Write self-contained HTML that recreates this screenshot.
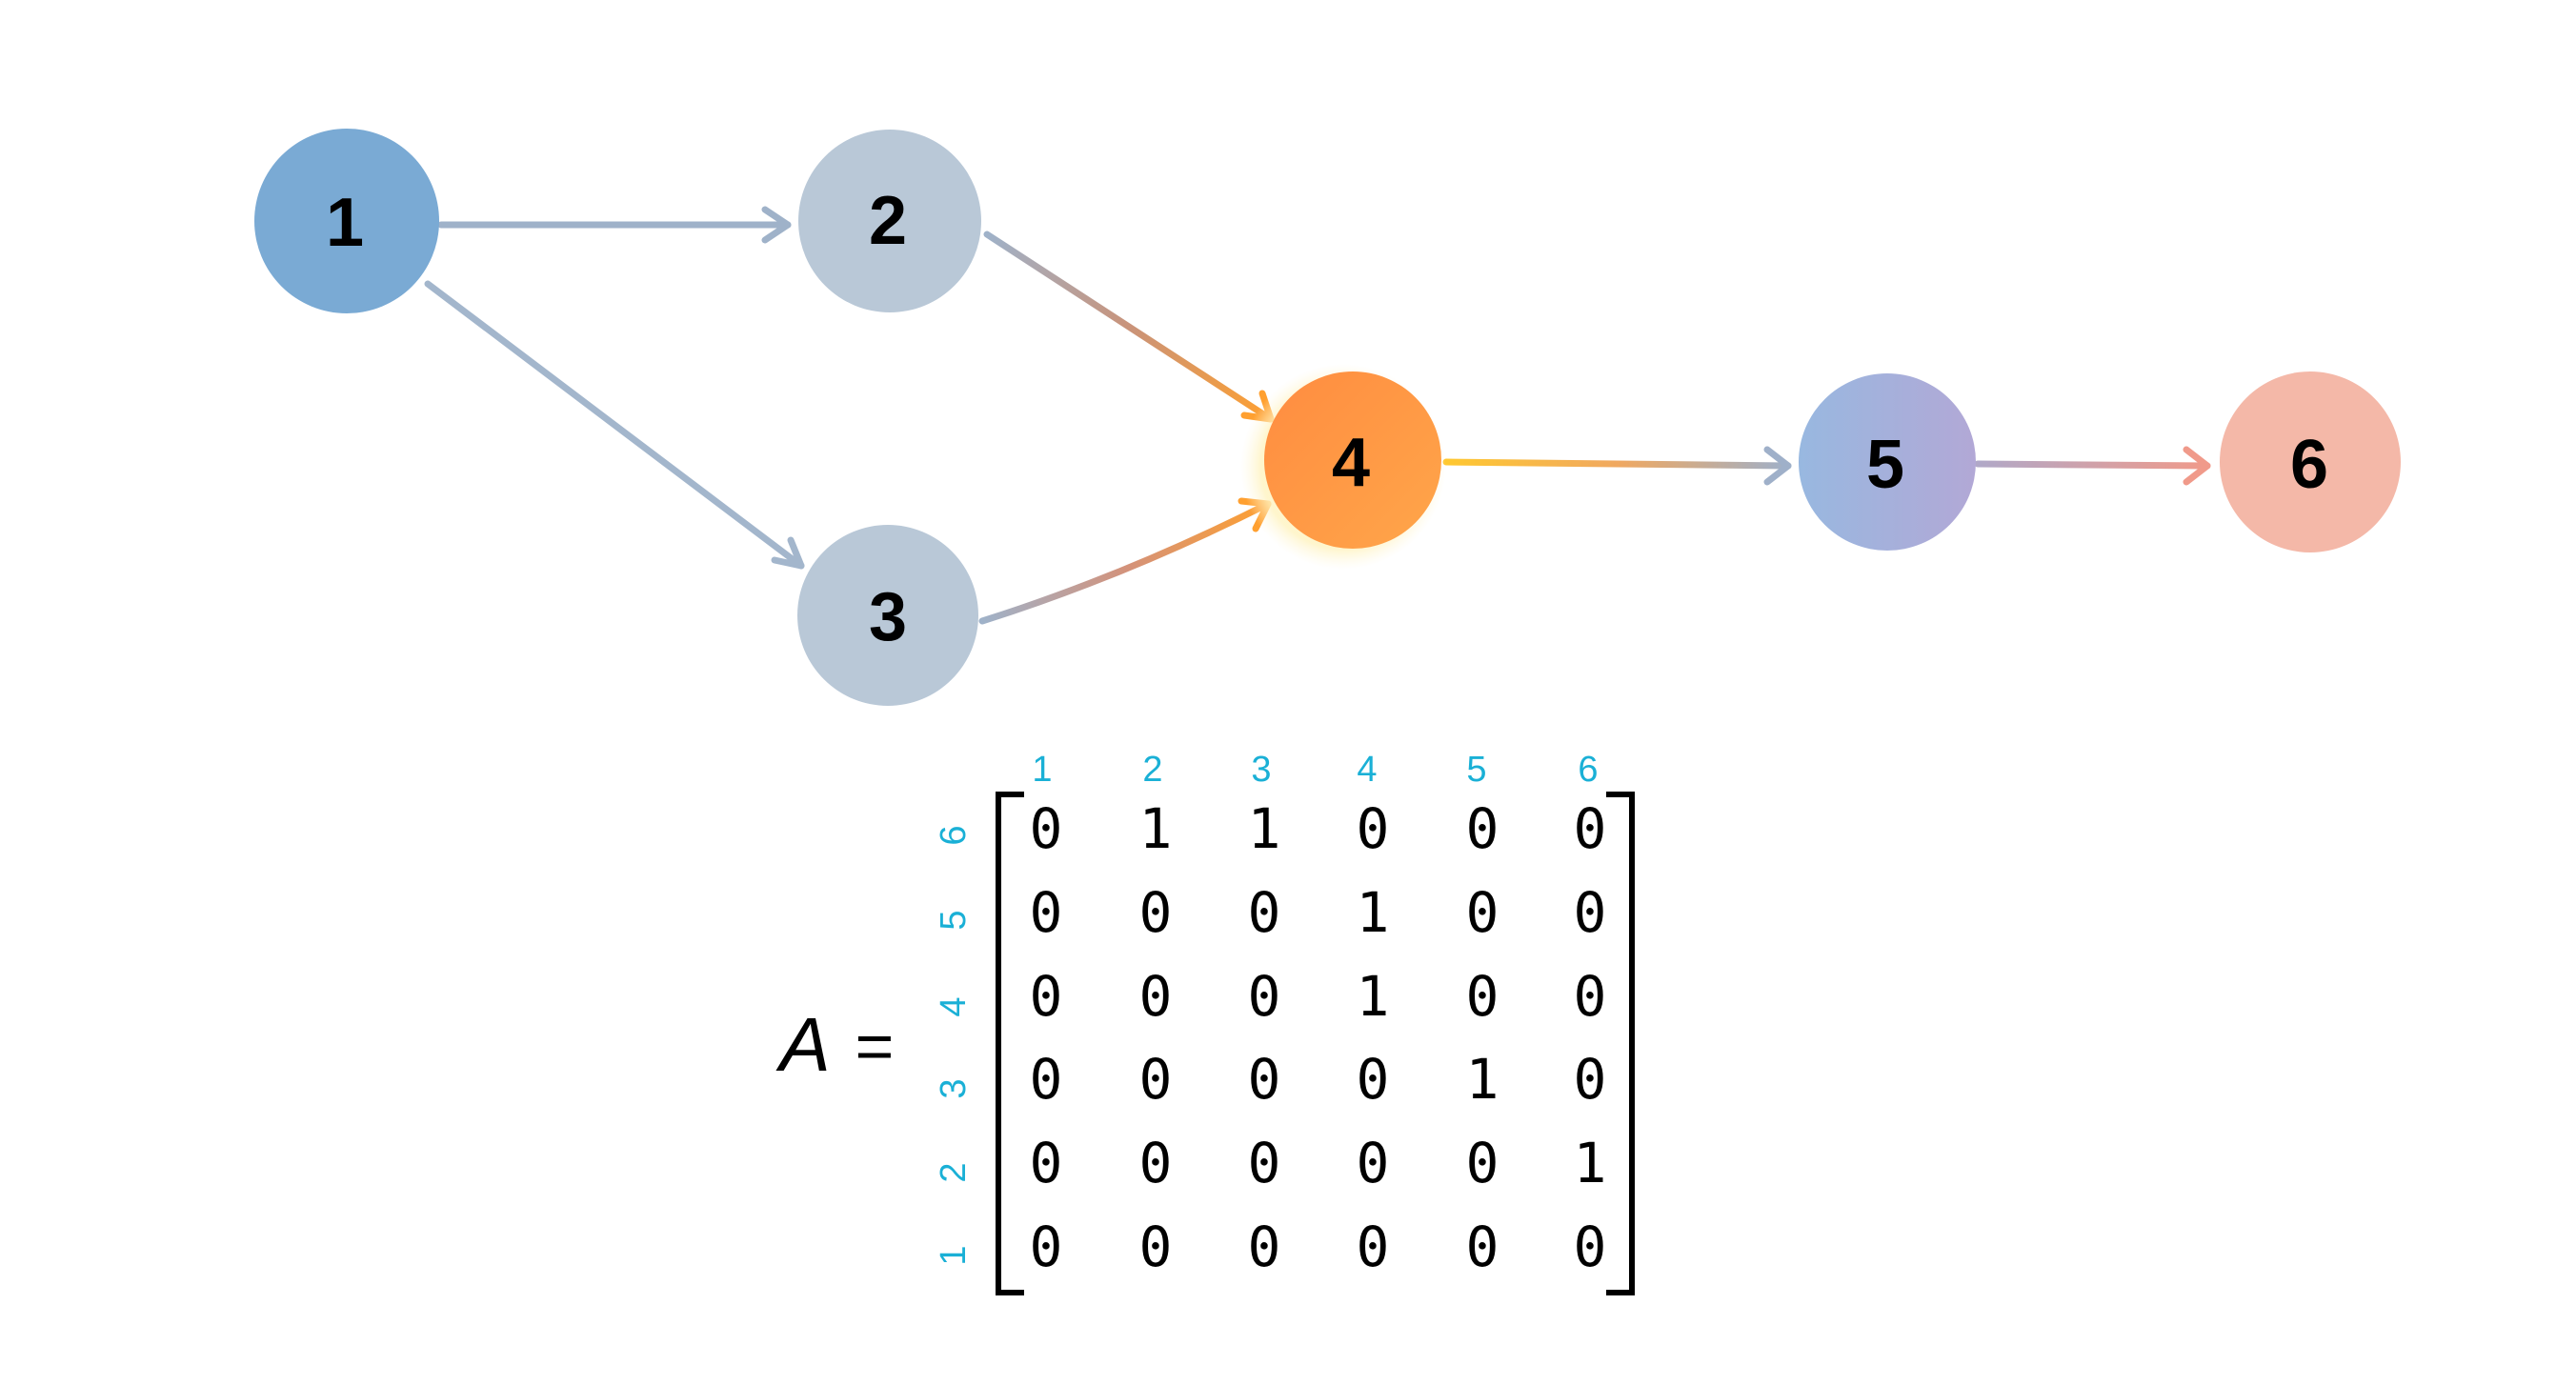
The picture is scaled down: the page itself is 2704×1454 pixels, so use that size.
<!DOCTYPE html>
<html><head><meta charset="utf-8"><style>
html,body{margin:0;padding:0;background:#fff}
svg{display:block}
</style></head><body>
<svg width="2704" height="1454" viewBox="0 0 2704 1454" xmlns="http://www.w3.org/2000/svg">
<defs>
<linearGradient id="g24" gradientUnits="userSpaceOnUse" x1="1036" y1="246" x2="1334" y2="440"><stop offset="0" stop-color="#9fb2c9"/><stop offset="0.5" stop-color="#c9937a"/><stop offset="1" stop-color="#ffa030"/></linearGradient>
<linearGradient id="g34" gradientUnits="userSpaceOnUse" x1="1031" y1="652" x2="1331" y2="529"><stop offset="0" stop-color="#9fb2c9"/><stop offset="0.5" stop-color="#d4927a"/><stop offset="1" stop-color="#ffa030"/></linearGradient>
<linearGradient id="g45" gradientUnits="userSpaceOnUse" x1="1518" y1="485" x2="1877" y2="489"><stop offset="0" stop-color="#ffc830"/><stop offset="0.5" stop-color="#f0a860"/><stop offset="1" stop-color="#9fb0c9"/></linearGradient>
<linearGradient id="g56" gradientUnits="userSpaceOnUse" x1="2076" y1="487" x2="2317" y2="489"><stop offset="0" stop-color="#b0a8c8"/><stop offset="1" stop-color="#f09a8a"/></linearGradient>
<linearGradient id="n4" x1="0" y1="0" x2="1" y2="1"><stop offset="0" stop-color="#ff8c40"/><stop offset="1" stop-color="#ffa64a"/></linearGradient>
<linearGradient id="n5" x1="0" y1="0" x2="1" y2="0"><stop offset="0" stop-color="#98b8e0"/><stop offset="1" stop-color="#b2a8d6"/></linearGradient>
<radialGradient id="glow"><stop offset="0.8" stop-color="#fff3c0" stop-opacity="0.8"/><stop offset="1" stop-color="#fff8e0" stop-opacity="0"/></radialGradient>
</defs>
<g fill="none" stroke-width="7" stroke-linecap="round" stroke-linejoin="round">
<path d="M463 236 L827 236" stroke="#9fb2c9"/>
<path d="M803 220 L827 236 L803 252" stroke="#9fb2c9"/>
<path d="M449 298 L841 594" stroke="#a3b6cc"/>
<path d="M813 588 L841 594 L830 567" stroke="#a3b6cc"/>
<path d="M1036 246 L1334 440" stroke="url(#g24)"/>
<path d="M1306 436 L1334 440 L1325 413" stroke="#ffa030"/>
<path d="M1031 652 Q1180 605 1331 529" stroke="url(#g34)"/>
<path d="M1303 526 L1331 529 L1318 555" stroke="#ffa030"/>
<path d="M1518 485 L1877 489" stroke="url(#g45)"/>
<path d="M1855 472 L1877 489 L1855 506" stroke="#9fb0c9"/>
<path d="M2076 487 L2317 489" stroke="url(#g56)"/>
<path d="M2295 472 L2317 489 L2295 506" stroke="#f09a8a"/>
</g>
<circle cx="1410" cy="490" r="108" fill="url(#glow)"/>
<circle cx="364" cy="232" r="97" fill="#7aaad4"/>
<circle cx="934" cy="232" r="96" fill="#b9c8d7"/>
<circle cx="932" cy="646" r="95" fill="#b9c8d7"/>
<circle cx="1420" cy="483" r="93" fill="url(#n4)"/>
<circle cx="1981" cy="485" r="93" fill="url(#n5)"/>
<circle cx="2425" cy="485" r="95" fill="#f4b8a8"/>
<g font-family="Liberation Sans, sans-serif" font-weight="bold" font-size="72" text-anchor="middle" fill="#000">
<text x="362" y="258">1</text>
<text x="932" y="256">2</text>
<text x="932" y="672">3</text>
<text x="1418" y="510">4</text>
<text x="1979" y="512">5</text>
<text x="2424" y="512">6</text>
</g>
<text x="845" y="1124" font-family="Liberation Sans, sans-serif" font-style="italic" font-size="80" text-anchor="middle">A</text>
<text x="918" y="1122" font-family="Liberation Sans, sans-serif" font-size="70" text-anchor="middle">=</text>
<g font-family="Liberation Sans, sans-serif" font-size="38" fill="#1ab0d6" text-anchor="middle">
<text x="1094" y="820">1</text><text x="1210" y="820">2</text><text x="1324" y="820">3</text><text x="1435" y="820">4</text><text x="1550" y="820">5</text><text x="1667" y="820">6</text>
<text transform="translate(1013 877) rotate(-90)">6</text>
<text transform="translate(1013 966) rotate(-90)">5</text>
<text transform="translate(1013 1057) rotate(-90)">4</text>
<text transform="translate(1013 1143) rotate(-90)">3</text>
<text transform="translate(1013 1231) rotate(-90)">2</text>
<text transform="translate(1013 1318) rotate(-90)">1</text>
</g>
<g fill="none" stroke="#000" stroke-width="6">
<path d="M1075 834 L1048 834 L1048 1357 L1075 1357"/>
<path d="M1686 834 L1713 834 L1713 1357 L1686 1357"/>
</g>
<g font-family="DejaVu Sans Mono, Liberation Mono, monospace" font-size="58" text-anchor="middle" fill="#000">
<text y="890"><tspan x="1098">0</tspan><tspan x="1213">1</tspan><tspan x="1327">1</tspan><tspan x="1441">0</tspan><tspan x="1556">0</tspan><tspan x="1669">0</tspan></text>
<text y="978"><tspan x="1098">0</tspan><tspan x="1213">0</tspan><tspan x="1327">0</tspan><tspan x="1441">1</tspan><tspan x="1556">0</tspan><tspan x="1669">0</tspan></text>
<text y="1066"><tspan x="1098">0</tspan><tspan x="1213">0</tspan><tspan x="1327">0</tspan><tspan x="1441">1</tspan><tspan x="1556">0</tspan><tspan x="1669">0</tspan></text>
<text y="1153"><tspan x="1098">0</tspan><tspan x="1213">0</tspan><tspan x="1327">0</tspan><tspan x="1441">0</tspan><tspan x="1556">1</tspan><tspan x="1669">0</tspan></text>
<text y="1241"><tspan x="1098">0</tspan><tspan x="1213">0</tspan><tspan x="1327">0</tspan><tspan x="1441">0</tspan><tspan x="1556">0</tspan><tspan x="1669">1</tspan></text>
<text y="1329"><tspan x="1098">0</tspan><tspan x="1213">0</tspan><tspan x="1327">0</tspan><tspan x="1441">0</tspan><tspan x="1556">0</tspan><tspan x="1669">0</tspan></text>
</g>
</svg>
</body></html>
